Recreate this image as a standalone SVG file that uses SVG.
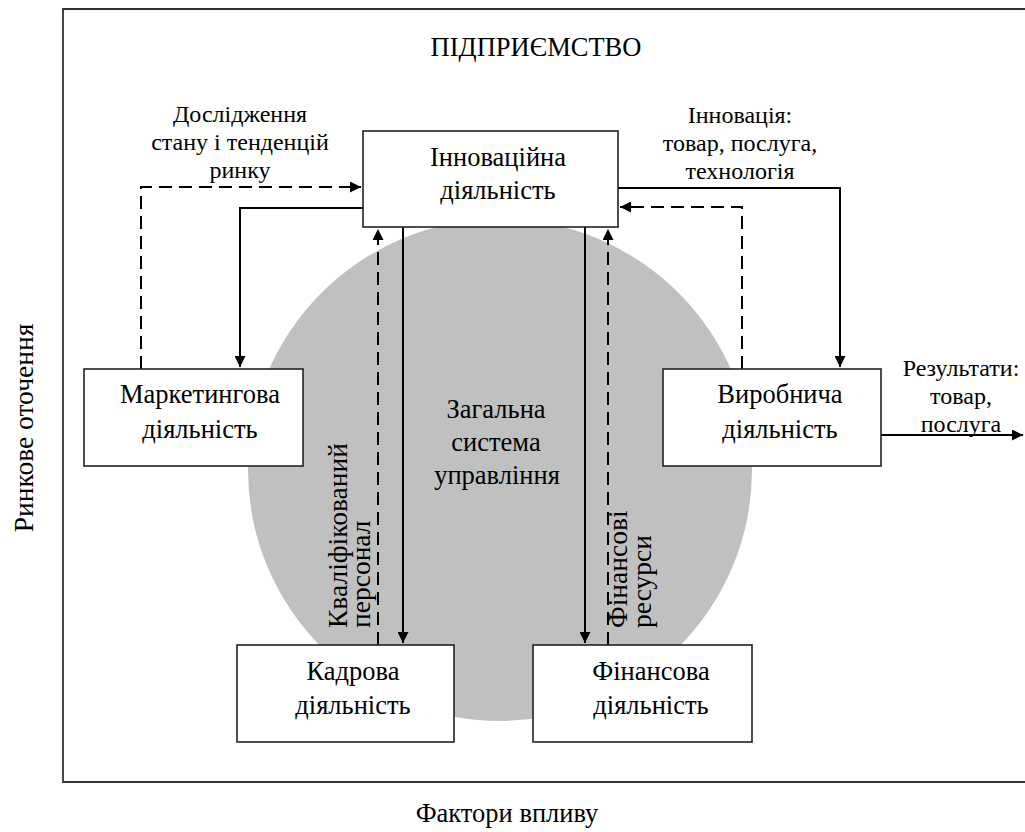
<svg xmlns="http://www.w3.org/2000/svg" width="1025" height="832" viewBox="0 0 1025 832" font-family="Liberation Serif, Times New Roman, DejaVu Serif, serif">
<style>
text{font-size:26.5px;fill:#000;text-anchor:middle}
.lbl{font-size:24px}
.rot{font-size:27.5px;text-anchor:start}
.box{fill:#fff;stroke:#222;stroke-width:1.6}
.ln{fill:none;stroke:#000;stroke-width:2}
.ds{fill:none;stroke:#000;stroke-width:2;stroke-dasharray:13 7}
</style>
<defs>
<marker id="ah" viewBox="0 0 10 10" refX="10" refY="5" markerWidth="11" markerHeight="11" markerUnits="userSpaceOnUse" orient="auto">
<path d="M0,0 L10,5 L0,10 z" fill="#000"/>
</marker>
</defs>
<rect x="0" y="0" width="1025" height="832" fill="#fff"/>
<g id="frame">
<path d="M1026,9 H63 V782 H1026" fill="none" stroke="#333" stroke-width="1.8"/>
</g>
<g id="management">
<ellipse cx="500" cy="470" rx="252" ry="251" fill="#c0c0c0"/>
<text x="496" y="418">Загальна</text>
<text x="496" y="451">система</text>
<text x="497" y="484">управління</text>
</g>
<text x="536" y="56">ПІДПРИЄМСТВО</text>
<g id="connectors">
<path class="ds" d="M141,369 V187 H361" marker-end="url(#ah)"/>
<path class="ln" d="M363,208 H240 V367" marker-end="url(#ah)"/>
<path class="ln" d="M618,188 H840 V367" marker-end="url(#ah)"/>
<path class="ds" d="M742,369 V207 H620" marker-end="url(#ah)"/>
<path class="ln" d="M881,435 H1023" marker-end="url(#ah)"/>
<path class="ln" d="M403,227 V643" marker-end="url(#ah)"/>
<path class="ds" d="M378,645 V229" marker-end="url(#ah)"/>
<path class="ln" d="M585,227 V643" marker-end="url(#ah)"/>
<path class="ds" d="M608,645 V229" marker-end="url(#ah)"/>
</g>
<g id="labels">
<text class="lbl" x="240" y="122">Дослідження</text>
<text class="lbl" x="240" y="150">стану і тенденцій</text>
<text class="lbl" x="240" y="178">ринку</text>
<text class="lbl" x="740" y="123">Інновація:</text>
<text class="lbl" x="740" y="151">товар, послуга,</text>
<text class="lbl" x="740" y="179">технологія</text>
<text class="lbl" x="961" y="376">Результати:</text>
<text class="lbl" x="961" y="404">товар,</text>
<text class="lbl" x="961" y="432">послуга</text>
<text class="rot" transform="translate(347,628) rotate(-90)">Кваліфікований</text>
<text class="rot" transform="translate(370,628) rotate(-90)">персонал</text>
<text class="rot" transform="translate(627,628) rotate(-90)">Фінансові</text>
<text class="rot" transform="translate(651,628) rotate(-90)">ресурси</text>
</g>
<g id="innovation">
<rect class="box" x="363" y="131" width="255" height="96"/>
<text x="498" y="166">Інноваційна</text>
<text x="498" y="199">діяльність</text>
</g>
<g id="marketing">
<rect class="box" x="84" y="369" width="219" height="97"/>
<text x="200" y="403">Маркетингова</text>
<text x="200" y="438">діяльність</text>
</g>
<g id="production">
<rect class="box" x="663" y="369" width="218" height="97"/>
<text x="780" y="403">Виробнича</text>
<text x="780" y="438">діяльність</text>
</g>
<g id="personnel">
<rect class="box" x="237" y="645" width="217" height="97"/>
<text x="353" y="680">Кадрова</text>
<text x="353" y="714">діяльність</text>
</g>
<g id="finance">
<rect class="box" x="533" y="645" width="219" height="97"/>
<text x="651" y="680">Фінансова</text>
<text x="651" y="714">діяльність</text>
</g>
<text class="rot" style="text-anchor:middle" transform="translate(33,428) rotate(-90)">Ринкове оточення</text>
<text x="507" y="822">Фактори впливу</text>
</svg>
